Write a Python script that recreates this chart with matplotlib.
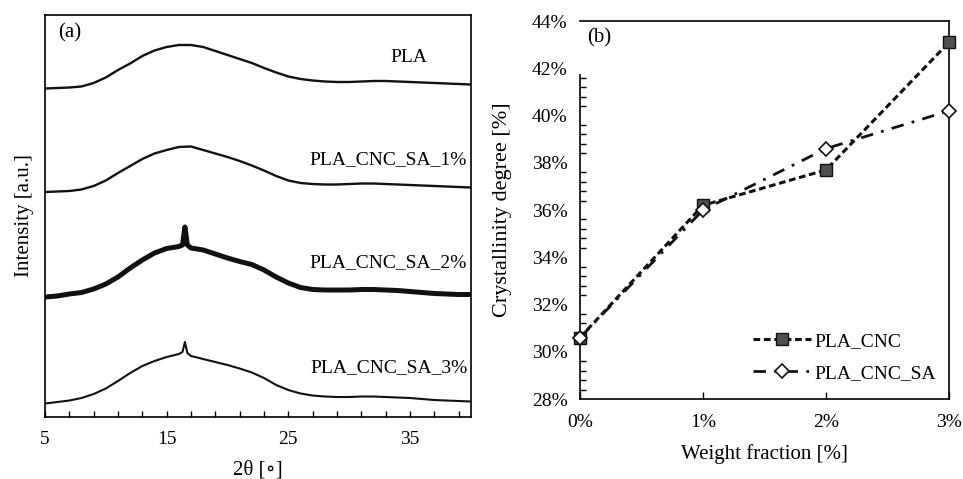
import numpy as np
import matplotlib
matplotlib.use("Agg")
import matplotlib.pyplot as plt
from matplotlib.ticker import MultipleLocator, FixedLocator, FuncFormatter

plt.rcParams['font.family'] = ['Liberation Serif', 'DejaVu Serif']
plt.rcParams['font.size'] = 14

# ---- (a) XRD patterns (stacked, a.u.) ----
two_theta = [5, 6, 7, 8, 9, 10, 11, 12, 13, 14, 15, 16, 17, 18, 19, 20, 21, 22,
             23, 24, 25, 26, 27, 28, 29, 30, 31, 32, 33, 34, 35, 36, 37, 38, 39, 40]
pla = [328.5, 329, 329.5, 330.5, 334, 339.5, 347, 353.5, 361, 366.5, 370, 372,
       372, 370, 366, 362, 358, 354, 349, 344.5, 340.5, 338, 336.5, 335.5, 335,
       335, 335.5, 336, 336, 335.5, 335, 334.5, 334, 333.5, 333, 332.5]
sa_1 = [225, 225.5, 226, 227.5, 231, 236.5, 244, 251, 258, 263.5, 267, 270,
        270.5, 267, 263.5, 260, 256, 251.5, 246.5, 241, 236.5, 234, 233, 232.5,
        232.5, 233, 233.5, 233.5, 233, 232.5, 232, 231.5, 231, 230.5, 230, 229.5]

two_theta_pk = [5, 6, 7, 8, 9, 10, 11, 12, 13, 14, 15, 16, 16.3, 16.5, 16.7, 17,
                18, 19, 20, 21, 22, 23, 24, 25, 26, 27, 28, 29, 30, 31, 32, 33,
                34, 35, 36, 37, 38, 39, 40]
sa_2 = [120, 121, 123, 124.5, 128, 133, 140, 149, 157, 164, 168.5, 170.5, 172,
        190, 172, 169, 167, 163, 159, 155.5, 152.5, 147, 140, 134, 129.5, 127.5,
        127, 127, 127, 127.5, 127.5, 127, 126.5, 125.5, 124.5, 123.5, 123, 122.5,
        122.5]
sa_3 = [13.5, 15, 16.5, 19, 23, 28.5, 36, 44, 51, 56, 60, 63, 65, 75, 64, 61,
        58, 55, 52, 48.5, 44.5, 39, 32, 27, 23.5, 21.5, 20.5, 20, 20, 20.5, 20.5,
        20, 19.5, 19, 18, 17, 16.5, 16, 15.5]

curve_names = ['PLA', 'PLA_CNC_SA_1%', 'PLA_CNC_SA_2%', 'PLA_CNC_SA_3%']
xrd_ticks = [5, 15, 25, 35]

# ---- (b) crystallinity ----
weight = [0, 1, 2, 3]
xc_cnc = [30.6, 36.2, 37.7, 43.1]
xc_cnc_sa = [30.6, 36.0, 38.6, 40.2]

fig = plt.figure(figsize=(9.63, 4.79), dpi=100)

# left panel
ax1 = fig.add_axes([0.0467, 0.1294, 0.4423, 0.8393])
ax1.plot(two_theta, pla, color='#111111', lw=1.7)
ax1.plot(two_theta, sa_1, color='#111111', lw=1.7)
ax1.plot(two_theta_pk, sa_2, color='#111111', lw=3.6)
ax1.plot(two_theta_pk, sa_3, color='#111111', lw=1.5)
ax1.set_xlim(5, 40)
ax1.set_ylim(0, 402)
ax1.set_yticks([])
ax1.xaxis.set_major_locator(FixedLocator(xrd_ticks))
ax1.xaxis.set_minor_locator(FixedLocator(np.arange(5, 40, 2)))
ax1.tick_params(axis='x', which='both', direction='in', length=4, width=1, pad=10)
ax1.set_xlabel('2θ [∘]', labelpad=9, fontsize=15)
ax1.set_ylabel('Intensity [a.u.]', labelpad=8, fontsize=15)
for s in ax1.spines.values():
    s.set_linewidth(1.2)

ax1.text(0.03, 0.955, '(a)', transform=ax1.transAxes, ha='left', va='center', fontsize=15)
ax1.text(34.9, 359, curve_names[0], ha='center', va='center')
ax1.text(39.7, 257, curve_names[1], ha='right', va='center')
ax1.text(39.7, 154, curve_names[2], ha='right', va='center')
ax1.text(39.7, 49, curve_names[3], ha='right', va='center')

# right panel
ax2 = fig.add_axes([0.6023, 0.167, 0.3832, 0.789])
ax2.plot(weight, xc_cnc, color='#111111', lw=2.2, ls=(0, (2.2, 1.2)),
         marker='s', ms=9, mfc='#505050', mec='#111111', mew=1,
         label='PLA_CNC', clip_on=False, zorder=3)
ax2.plot(weight, xc_cnc_sa, color='#111111', lw=2.0, ls=(0, (4.5, 3, 1, 3)),
         marker='D', ms=7.5, mfc='white', mec='#111111', mew=1.2,
         label='PLA_CNC_SA', clip_on=False, zorder=4)
ax2.set_xlim(0, 3)
ax2.set_ylim(28, 44)
ax2.set_xticks(weight)
ax2.xaxis.set_major_formatter(FuncFormatter(lambda v, p: '%d%%' % v))
ax2.yaxis.set_major_locator(MultipleLocator(2))
ax2.yaxis.set_minor_locator(FixedLocator(np.arange(28, 41.7, 0.4)))
ax2.yaxis.set_major_formatter(FuncFormatter(lambda v, p: '%d%%' % v))
ax2.tick_params(axis='both', which='both', direction='in', width=1, pad=9)
ax2.tick_params(axis='x', pad=11)
ax2.tick_params(axis='y', which='major', length=0)
ax2.tick_params(axis='y', which='minor', length=4)
ax2.tick_params(axis='x', which='major', length=5)
ax2.set_xlabel('Weight fraction [%]', labelpad=9, fontsize=15)
ax2.set_ylabel('Crystallinity degree [%]', labelpad=14, fontsize=16)
for s in ax2.spines.values():
    s.set_linewidth(1.2)
ax2.spines['left'].set_bounds(28, 41.7)
ax2.text(0.02, 0.955, '(b)', transform=ax2.transAxes, ha='left', va='center', fontsize=15)
ax2.legend(loc='lower left', bbox_to_anchor=(0.469, 0.045), frameon=False,
           handlelength=3.0, labelspacing=0.75, borderpad=0, borderaxespad=0,
           handletextpad=0.15)

fig.savefig('out.png', dpi=100)
